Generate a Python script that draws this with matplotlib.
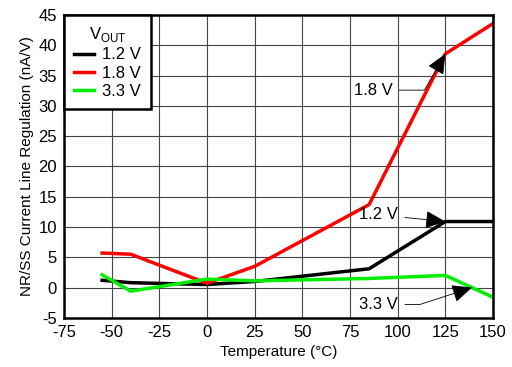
import matplotlib.pyplot as plt

plt.rcParams['font.family'] = ['Liberation Sans', 'DejaVu Sans']
plt.rcParams['axes.unicode_minus'] = False

temps = [-55, -40, 0, 25, 85, 125, 150]
v12 = [1.2, 0.8, 0.5, 1.0, 3.1, 10.9, 10.9]
v18 = [5.7, 5.5, 0.7, 3.5, 13.7, 38.6, 43.6]
v33 = [2.1, -0.6, 1.4, 1.1, 1.5, 2.0, -1.6]
labels = ['1.2 V', '1.8 V', '3.3 V']
colors = ['black', '#ff0000', '#00ee00']

fig = plt.figure(figsize=(5.12, 3.67), dpi=100)
ax = fig.add_axes([0.125, 0.134, 0.838, 0.825])

for ys, lab, c in zip([v12, v18, v33], labels, colors):
    ax.plot(temps, ys, color=c, lw=2.5, label=lab)

ax.set_xlim(-75, 150)
ax.set_ylim(-5, 45)
ax.set_xticks(range(-75, 151, 25))
ax.set_yticks(range(-5, 46, 5))
ax.grid(True, color='#444444', lw=0.8)
for s in ax.spines.values():
    s.set_linewidth(1.8)
ax.tick_params(length=0, labelsize=12, pad=5)
ax.set_xlabel('Temperature (°C)', fontsize=11, labelpad=4)
ax.set_ylabel('NR/SS Current Line Regulation (nA/V)', fontsize=11, labelpad=3)

leg = ax.legend(title='V$_{\\mathregular{OUT}}$', loc='upper left', fontsize=12,
                title_fontsize=12, fancybox=False, framealpha=1, edgecolor='black',
                borderaxespad=0, handlelength=1.2, labelspacing=0.2, borderpad=0.6,
                handletextpad=0.5)
leg.get_frame().set_linewidth(1.8)

head = dict(arrowstyle='-|>,head_length=0.9,head_width=0.4', color='black', lw=0.6,
            mutation_scale=14, shrinkA=3, shrinkB=0)
ax.annotate('1.8 V', xy=(125, 38.6), xytext=(87, 32.6), fontsize=12,
            ha='center', va='center',
            arrowprops=dict(head, connectionstyle='angle,angleA=0,angleB=60,rad=0'))
ax.annotate('1.2 V', xy=(125, 10.9), xytext=(90, 12.0), fontsize=12,
            ha='center', va='center', arrowprops=head)
ax.annotate('3.3 V', xy=(139, 0), xytext=(90, -2.8), fontsize=12,
            ha='center', va='center',
            arrowprops=dict(head, connectionstyle='angle,angleA=0,angleB=18,rad=0'))

fig.savefig('out.png', dpi=100)
